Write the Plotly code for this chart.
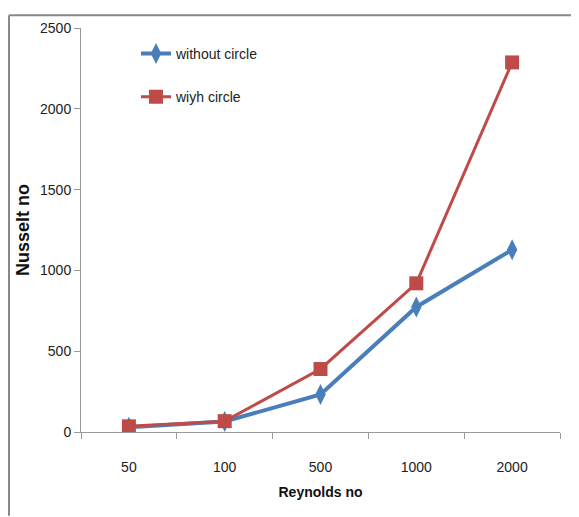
import plotly.graph_objects as go

categories = ["50", "100", "500", "1000", "2000"]
without_circle = [30, 65, 232, 774, 1128]
with_circle = [35, 67, 390, 920, 2287]
y_ticks = [0, 500, 1000, 1500, 2000, 2500]

# page is offset by the 8px body margin
OFF = 8
W, H = 579 - OFF, 517 - OFF
L, R, T, B = 81 - OFF, 560 - OFF, 22 - OFF, 432 - OFF

FONT = "Liberation Sans, Arial, sans-serif"

fig = go.Figure()
fig.add_trace(go.Scatter(
    x=categories, y=without_circle, name="without circle", mode="lines+markers",
    line=dict(color="#4A7EBB", width=4),
    marker=dict(symbol="diamond-tall", size=15, color="#4A7EBB"),
    legendgroup="a",
))
fig.add_trace(go.Scatter(
    x=categories, y=with_circle, name="wiyh circle", mode="lines+markers",
    line=dict(color="#BE4B48", width=3),
    marker=dict(symbol="square", size=14, color="#BE4B48"),
    legendgroup="b",
))

def px_x(p):
    return (p - OFF - L) / (R - L)

def px_y(p):
    return (B - (p - OFF)) / (B - T)

fig.update_layout(
    width=W, height=H,
    margin=dict(l=L, r=W - R, t=T, b=H - B),
    paper_bgcolor="white", plot_bgcolor="white",
    font=dict(family=FONT, size=14, color="#222"),
    showlegend=True,
    legend=dict(
        x=px_x(136), y=px_y(32), xanchor="left", yanchor="top",
        bgcolor="rgba(0,0,0,0)", tracegroupgap=22,
        font=dict(family=FONT, size=14, color="#222"),
        itemwidth=30,
    ),
    xaxis=dict(
        type="category", range=[-0.5, 4.5],
        showgrid=False, showline=True, linecolor="#999", linewidth=1,
        ticks="outside", tickson="boundaries", ticklen=6, tickcolor="#999",
        ticklabelstandoff=22,
        tickfont=dict(family=FONT, size=14, color="#222"),
        title=dict(text="<b>Reynolds no</b>", font=dict(family=FONT, size=14, color="#111"), standoff=13),
        zeroline=False,
    ),
    yaxis=dict(
        range=[0, 2500], tickvals=y_ticks,
        showgrid=False, showline=True, linecolor="#999", linewidth=1,
        ticks="outside", ticklen=6, tickcolor="#999",
        tickfont=dict(family=FONT, size=14, color="#222"),
        title=dict(text="<b>Nusselt no</b>", font=dict(family=FONT, size=18, color="#111"), standoff=5),
        zeroline=False,
    ),
    shapes=[
        dict(type="line", xref="paper", yref="paper",
             x0=px_x(9), x1=px_x(9), y0=px_y(9), y1=px_y(517),
             line=dict(color="#888", width=2)),
        dict(type="line", xref="paper", yref="paper",
             x0=px_x(9), x1=px_x(579), y0=px_y(9), y1=px_y(9),
             line=dict(color="#888", width=2)),
    ],
)

fig.write_html("out.html")
